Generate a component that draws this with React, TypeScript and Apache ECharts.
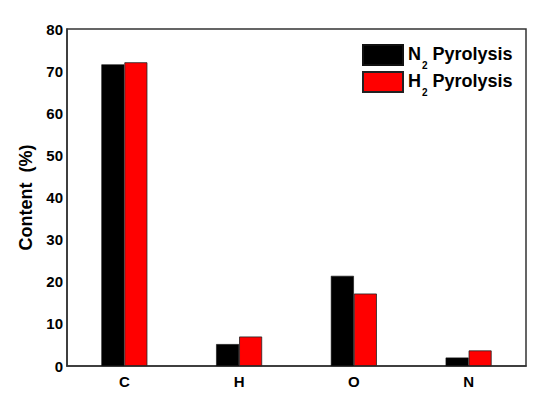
import React, { useEffect, useRef } from "react";
import * as echarts from "echarts";

const categories = ["C", "H", "O", "N"];
const n2Values = [71.6, 5.2, 21.4, 2.0];
const h2Values = [72.1, 7.0, 17.2, 3.7];
const seriesNames = ["N2 Pyrolysis", "H2 Pyrolysis"];
const yTicks = { min: 0, max: 80, interval: 10 };

const FONT = "Arial, 'Liberation Sans', sans-serif";

export default function App() {
  const ref = useRef<HTMLDivElement>(null);
  useEffect(() => {
    if (!ref.current) return;
    const chart = echarts.init(ref.current, null, { renderer: "svg" });
    chart.setOption({
      animation: false,
      backgroundColor: "#ffffff",
      textStyle: { fontFamily: FONT },
      grid: {
        left: 67,
        right: 24,
        top: 29,
        bottom: 49,
        show: true,
        borderColor: "#333",
        borderWidth: 1.5,
      },
      legend: {
        orient: "vertical",
        left: 362,
        top: 44,
        padding: 0,
        itemWidth: 40,
        itemHeight: 20,
        itemGap: 1,
        icon: "rect",
        formatter: (name: string) => {
          const letter = name.charAt(0);
          return `{a|${letter}}{s|2}{a| Pyrolysis}`;
        },
        textStyle: {
          fontFamily: FONT,
          rich: {
            a: {
              fontSize: 18,
              fontWeight: "bold",
              color: "#000",
              fontFamily: FONT,
              lineHeight: 20,
              verticalAlign: "top",
            },
            s: {
              fontSize: 10,
              fontWeight: "bold",
              color: "#000",
              fontFamily: FONT,
              lineHeight: 12,
              verticalAlign: "top",
              padding: [15, 0, 0, 1],
            },
          },
        },
      },
      xAxis: {
        type: "category",
        data: categories,
        axisTick: { show: false },
        axisLine: { lineStyle: { color: "#333", width: 1.5 } },
        axisLabel: {
          fontSize: 15,
          fontWeight: "bold",
          color: "#000",
          margin: 8,
          fontFamily: FONT,
        },
      },
      yAxis: {
        type: "value",
        min: yTicks.min,
        max: yTicks.max,
        interval: yTicks.interval,
        name: "Content  (%)",
        nameLocation: "middle",
        nameGap: 32,
        nameTextStyle: {
          fontSize: 18,
          fontWeight: "bold",
          color: "#000",
          fontFamily: FONT,
        },
        splitLine: { show: false },
        axisTick: { show: false },
        axisLine: { show: true, lineStyle: { color: "#333", width: 1.5 } },
        axisLabel: {
          fontSize: 15,
          fontWeight: "bold",
          color: "#000",
          margin: 4,
          fontFamily: FONT,
        },
      },
      series: [
        {
          name: seriesNames[0],
          type: "bar",
          data: n2Values,
          barWidth: 23,
          barGap: "0%",
          itemStyle: { color: "#000000", borderColor: "#111", borderWidth: 0.6 },
        },
        {
          name: seriesNames[1],
          type: "bar",
          data: h2Values,
          barWidth: 23,
          barGap: "0%",
          itemStyle: { color: "#ff0000", borderColor: "#222", borderWidth: 0.8 },
        },
      ],
    });
    return () => chart.dispose();
  }, []);
  return (
    <div
      ref={ref}
      style={{ position: "fixed", left: 0, top: 0, width: 550, height: 415 }}
    />
  );
}
